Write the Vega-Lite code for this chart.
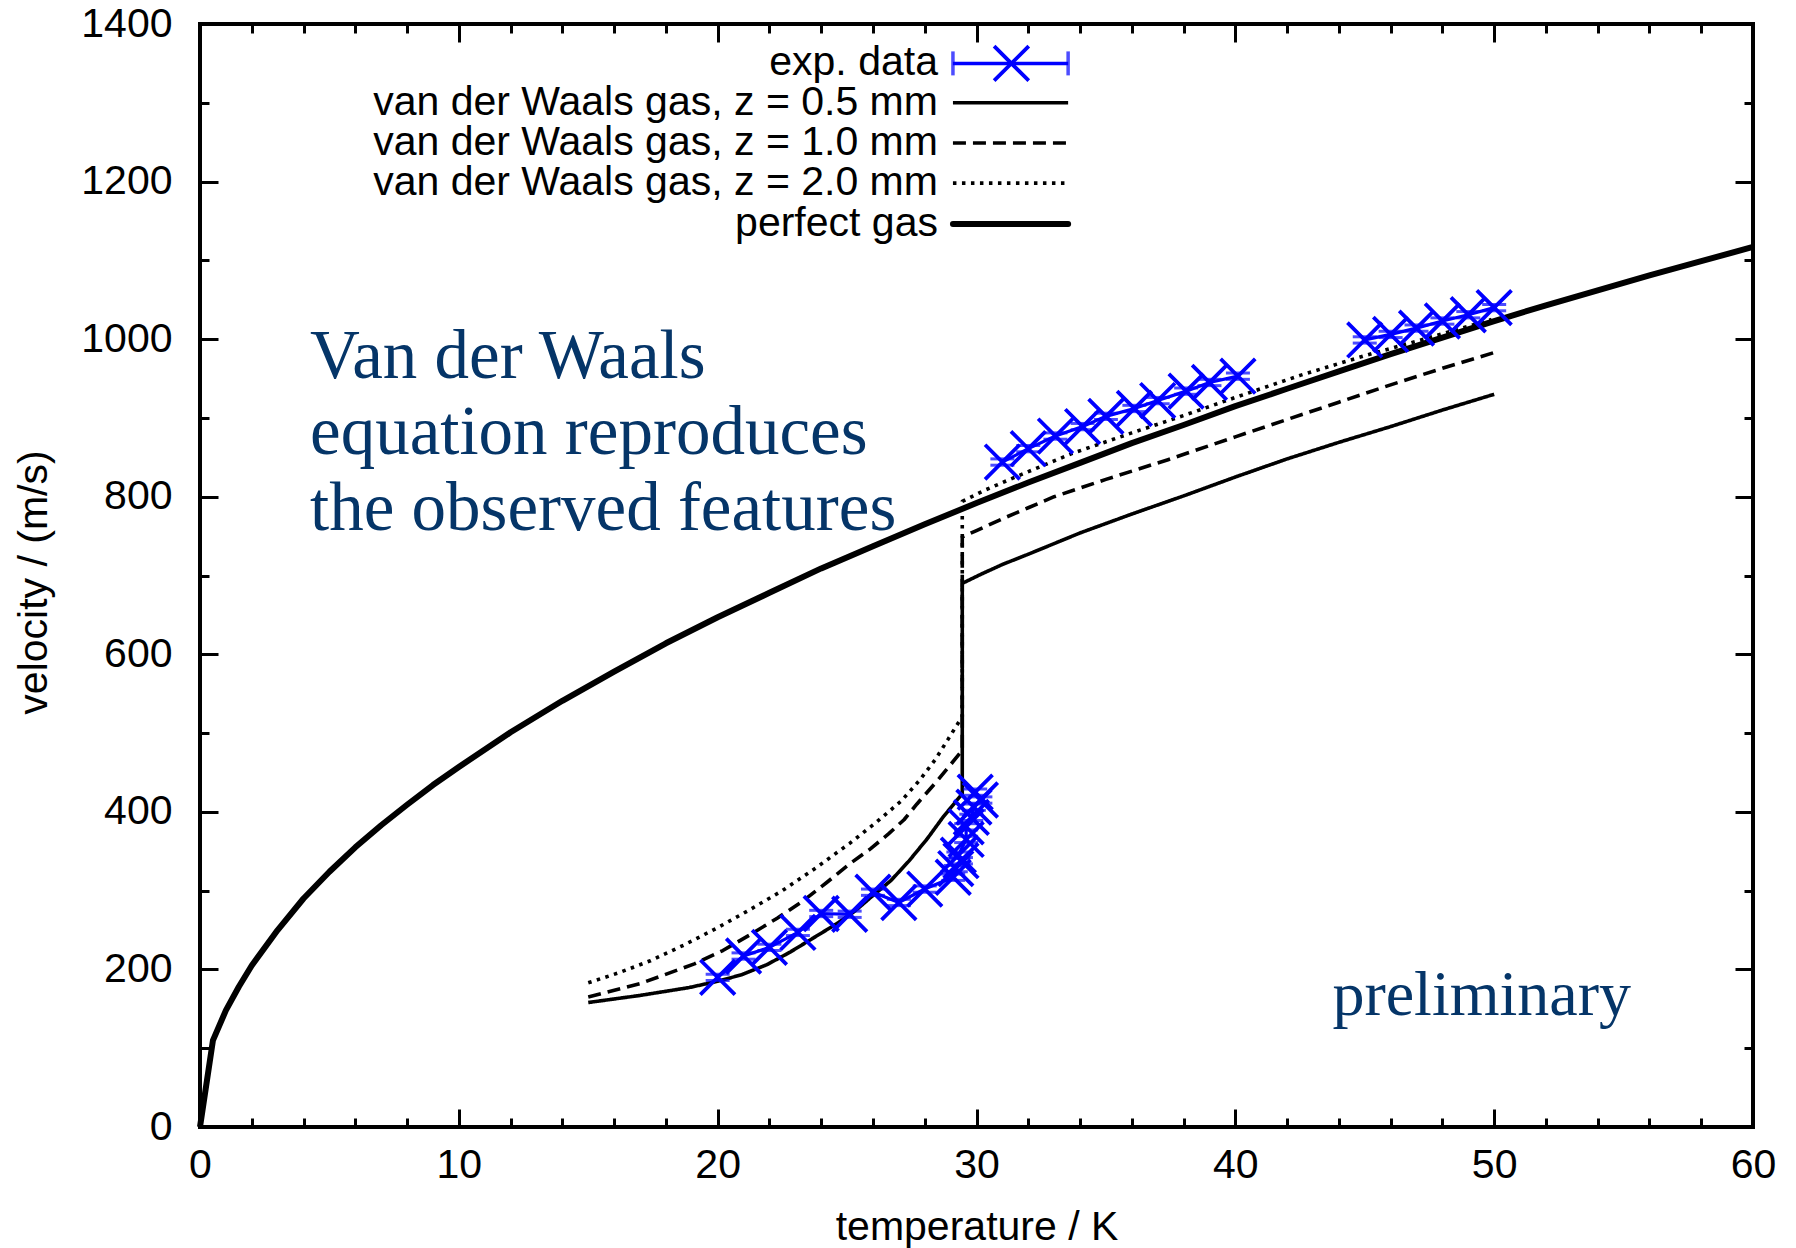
{
  "$schema": "https://vega.github.io/schema/vega-lite/v6.json",
  "width": 1553,
  "height": 1103,
  "autosize": {"type": "none"},
  "padding": {"left": 200, "top": 24, "right": 43, "bottom": 121},
  "background": "white",
  "config": {
    "view": {"stroke": "black", "strokeWidth": 4},
    "axis": {
      "domain": false,
      "grid": false,
      "tickColor": "black",
      "tickWidth": 3,
      "labelFont": "Liberation Sans",
      "labelFontSize": 41,
      "labelColor": "black",
      "titleFont": "Liberation Sans",
      "titleFontSize": 41,
      "titleFontWeight": "normal",
      "titleColor": "black",
      "labelOverlap": false,
      "labelFlush": false
    }
  },
  "datasets": {
    "curves": [
      {"s": "pg", "T": 0, "v": 0}, {"s": "pg", "T": 0.5, "v": 110}, {"s": "pg", "T": 1, "v": 148}, {"s": "pg", "T": 1.5, "v": 178},
      {"s": "pg", "T": 2, "v": 205}, {"s": "pg", "T": 3, "v": 250}, {"s": "pg", "T": 4, "v": 290}, {"s": "pg", "T": 5, "v": 324},
      {"s": "pg", "T": 6, "v": 355}, {"s": "pg", "T": 7, "v": 383}, {"s": "pg", "T": 8, "v": 409}, {"s": "pg", "T": 9, "v": 434},
      {"s": "pg", "T": 10, "v": 457}, {"s": "pg", "T": 12, "v": 501}, {"s": "pg", "T": 14, "v": 541}, {"s": "pg", "T": 16, "v": 578},
      {"s": "pg", "T": 18, "v": 614}, {"s": "pg", "T": 20, "v": 647}, {"s": "pg", "T": 22, "v": 678}, {"s": "pg", "T": 24, "v": 709},
      {"s": "pg", "T": 26, "v": 737}, {"s": "pg", "T": 28, "v": 765}, {"s": "pg", "T": 30, "v": 792}, {"s": "pg", "T": 32, "v": 818},
      {"s": "pg", "T": 34, "v": 843}, {"s": "pg", "T": 36, "v": 868}, {"s": "pg", "T": 38, "v": 891}, {"s": "pg", "T": 40, "v": 915},
      {"s": "pg", "T": 42, "v": 937}, {"s": "pg", "T": 44, "v": 959}, {"s": "pg", "T": 46, "v": 981}, {"s": "pg", "T": 48, "v": 1002},
      {"s": "pg", "T": 50, "v": 1023}, {"s": "pg", "T": 52, "v": 1043}, {"s": "pg", "T": 54, "v": 1062}, {"s": "pg", "T": 56, "v": 1081},
      {"s": "pg", "T": 58, "v": 1099}, {"s": "pg", "T": 60, "v": 1117},

      {"s": "z05", "T": 15, "v": 158}, {"s": "z05", "T": 17, "v": 167}, {"s": "z05", "T": 18.9, "v": 177}, {"s": "z05", "T": 20, "v": 185},
      {"s": "z05", "T": 20.9, "v": 193}, {"s": "z05", "T": 21.9, "v": 206}, {"s": "z05", "T": 22.8, "v": 222}, {"s": "z05", "T": 23.7, "v": 240},
      {"s": "z05", "T": 24.6, "v": 258}, {"s": "z05", "T": 25.3, "v": 274}, {"s": "z05", "T": 25.9, "v": 291}, {"s": "z05", "T": 26.7, "v": 313},
      {"s": "z05", "T": 27.4, "v": 338}, {"s": "z05", "T": 28.1, "v": 366}, {"s": "z05", "T": 28.7, "v": 393}, {"s": "z05", "T": 29.45, "v": 423},
      {"s": "z05", "T": 29.45, "v": 690}, {"s": "z05", "T": 30.2, "v": 702}, {"s": "z05", "T": 31, "v": 714}, {"s": "z05", "T": 32, "v": 727},
      {"s": "z05", "T": 34, "v": 754}, {"s": "z05", "T": 36, "v": 778}, {"s": "z05", "T": 38, "v": 801}, {"s": "z05", "T": 40, "v": 825},
      {"s": "z05", "T": 42, "v": 848}, {"s": "z05", "T": 44, "v": 869}, {"s": "z05", "T": 46, "v": 889}, {"s": "z05", "T": 48, "v": 910},
      {"s": "z05", "T": 50, "v": 930},

      {"s": "z10", "T": 15, "v": 165}, {"s": "z10", "T": 17, "v": 182}, {"s": "z10", "T": 19.1, "v": 207}, {"s": "z10", "T": 20.2, "v": 224},
      {"s": "z10", "T": 21.3, "v": 245}, {"s": "z10", "T": 22.3, "v": 265}, {"s": "z10", "T": 23.3, "v": 287}, {"s": "z10", "T": 24.2, "v": 310},
      {"s": "z10", "T": 25.1, "v": 334}, {"s": "z10", "T": 25.9, "v": 353}, {"s": "z10", "T": 26.6, "v": 372}, {"s": "z10", "T": 27.2, "v": 390},
      {"s": "z10", "T": 27.7, "v": 410}, {"s": "z10", "T": 28.5, "v": 440}, {"s": "z10", "T": 29.45, "v": 478}, {"s": "z10", "T": 29.45, "v": 749},
      {"s": "z10", "T": 30, "v": 757}, {"s": "z10", "T": 31, "v": 772}, {"s": "z10", "T": 32, "v": 786}, {"s": "z10", "T": 33, "v": 800},
      {"s": "z10", "T": 35, "v": 822}, {"s": "z10", "T": 37.4, "v": 847}, {"s": "z10", "T": 40, "v": 876}, {"s": "z10", "T": 42, "v": 898},
      {"s": "z10", "T": 44, "v": 920}, {"s": "z10", "T": 46, "v": 942}, {"s": "z10", "T": 48, "v": 963}, {"s": "z10", "T": 50, "v": 983},

      {"s": "z20", "T": 15, "v": 183}, {"s": "z20", "T": 16.2, "v": 196}, {"s": "z20", "T": 17.4, "v": 211}, {"s": "z20", "T": 18.7, "v": 231},
      {"s": "z20", "T": 20, "v": 253}, {"s": "z20", "T": 21.2, "v": 275}, {"s": "z20", "T": 22.5, "v": 300}, {"s": "z20", "T": 23.8, "v": 329},
      {"s": "z20", "T": 25.1, "v": 360}, {"s": "z20", "T": 26.1, "v": 386}, {"s": "z20", "T": 27.1, "v": 414}, {"s": "z20", "T": 27.8, "v": 440},
      {"s": "z20", "T": 28.4, "v": 466}, {"s": "z20", "T": 28.9, "v": 492}, {"s": "z20", "T": 29.45, "v": 521},
      {"s": "z20", "T": 29.45, "v": 794}, {"s": "z20", "T": 30.3, "v": 808}, {"s": "z20", "T": 31.5, "v": 825}, {"s": "z20", "T": 33.7, "v": 855},
      {"s": "z20", "T": 36, "v": 881}, {"s": "z20", "T": 38, "v": 903}, {"s": "z20", "T": 40, "v": 926}, {"s": "z20", "T": 42.5, "v": 954},
      {"s": "z20", "T": 45, "v": 979}, {"s": "z20", "T": 47.5, "v": 1002}, {"s": "z20", "T": 49.9, "v": 1025}
    ],
    "exp": [
      {"g": "a", "T": 20.0, "v": 190, "dv": 4}, {"g": "a", "T": 21.0, "v": 217, "dv": 4}, {"g": "a", "T": 22.0, "v": 228, "dv": 4},
      {"g": "a", "T": 23.1, "v": 247, "dv": 4}, {"g": "a", "T": 24.0, "v": 271, "dv": 4}, {"g": "a", "T": 25.1, "v": 270, "dv": 4},
      {"g": "a", "T": 26.0, "v": 298, "dv": 4}, {"g": "a", "T": 27.0, "v": 285, "dv": 4}, {"g": "a", "T": 28.0, "v": 302, "dv": 4},
      {"g": "a", "T": 29.1, "v": 317, "dv": 4}, {"g": "a", "T": 29.2, "v": 328, "dv": 4}, {"g": "a", "T": 29.4, "v": 338, "dv": 4},
      {"g": "a", "T": 29.3, "v": 345, "dv": 4}, {"g": "a", "T": 29.6, "v": 365, "dv": 4}, {"g": "a", "T": 29.6, "v": 381, "dv": 4},
      {"g": "a", "T": 29.8, "v": 393, "dv": 4}, {"g": "a", "T": 29.9, "v": 406, "dv": 4}, {"g": "a", "T": 30.15, "v": 415, "dv": 4},
      {"g": "a", "T": 29.95, "v": 425, "dv": 4},
      {"g": "b", "T": 31.0, "v": 844, "dv": 4}, {"g": "b", "T": 32.0, "v": 861, "dv": 4}, {"g": "b", "T": 33.05, "v": 877, "dv": 4},
      {"g": "b", "T": 34.1, "v": 889, "dv": 4}, {"g": "b", "T": 35.0, "v": 902, "dv": 4}, {"g": "b", "T": 36.1, "v": 912, "dv": 4},
      {"g": "b", "T": 37.0, "v": 922, "dv": 4}, {"g": "b", "T": 38.1, "v": 934, "dv": 4}, {"g": "b", "T": 39.0, "v": 945, "dv": 4},
      {"g": "b", "T": 40.1, "v": 953, "dv": 4},
      {"g": "c", "T": 45.0, "v": 999, "dv": 4}, {"g": "c", "T": 46.0, "v": 1006, "dv": 4}, {"g": "c", "T": 47.0, "v": 1014, "dv": 4},
      {"g": "c", "T": 48.0, "v": 1023, "dv": 4}, {"g": "c", "T": 49.0, "v": 1031, "dv": 4}, {"g": "c", "T": 50.0, "v": 1040, "dv": 4}
    ],
    "legend": [
      {"s": "exp", "label": "exp. data", "lv": 1350},
      {"s": "z05", "label": "van der Waals gas, z = 0.5 mm", "lv": 1300},
      {"s": "z10", "label": "van der Waals gas, z = 1.0 mm", "lv": 1249},
      {"s": "z20", "label": "van der Waals gas, z = 2.0 mm", "lv": 1198},
      {"s": "pg", "label": "perfect gas", "lv": 1146}
    ],
    "notes": [
      {"note": "main"}
    ]
  },
  "layer": [
    {
      "data": {"name": "curves"},
      "transform": [{"filter": "datum.s === 'pg'"}],
      "mark": {"type": "line", "color": "black", "strokeWidth": 6, "strokeCap": "butt", "strokeJoin": "round"},
      "encoding": {
        "x": {
          "field": "T", "type": "quantitative",
          "scale": {"domain": [0, 60], "nice": false, "zero": false},
          "axis": {
            "orient": "bottom",
            "title": "temperature / K",
            "values": [0, 2, 4, 6, 8, 10, 12, 14, 16, 18, 20, 22, 24, 26, 28, 30, 32, 34, 36, 38, 40, 42, 44, 46, 48, 50, 52, 54, 56, 58, 60],
            "labelExpr": "datum.value % 10 === 0 ? datum.label : ''",
            "tickSize": {"condition": {"test": "datum.value % 10 === 0", "value": -18}, "value": -9},
            "labelPadding": 36,
            "titleY": 112,
            "titleBaseline": "alphabetic"
          }
        },
        "y": {
          "field": "v", "type": "quantitative",
          "scale": {"domain": [0, 1400], "nice": false, "zero": false},
          "axis": {
            "orient": "left",
            "title": "velocity / (m/s)",
            "format": "d",
            "values": [0, 100, 200, 300, 400, 500, 600, 700, 800, 900, 1000, 1100, 1200, 1300, 1400],
            "labelExpr": "datum.value % 200 === 0 ? datum.label : ''",
            "tickSize": {"condition": {"test": "datum.value % 200 === 0", "value": -18}, "value": -9},
            "labelPadding": 46,
            "titleX": -166,
            "titleY": 558,
            "titleBaseline": "middle"
          }
        },
        "order": {"value": null}
      }
    },
    {
      "data": {"name": "curves"},
      "transform": [{"filter": "datum.s !== 'pg'"}],
      "mark": {"type": "line", "color": "black", "strokeWidth": 3.6, "strokeCap": "butt", "strokeJoin": "round"},
      "encoding": {
        "x": {"field": "T", "type": "quantitative", "axis": null},
        "y": {"field": "v", "type": "quantitative", "axis": null},
        "detail": {"field": "s"},
        "strokeDash": {"field": "s", "type": "nominal", "legend": null,
          "scale": {"domain": ["z05", "z10", "z20"], "range": [[1, 0], [13, 7], [3.5, 5.5]]}},
        "order": {"value": null}
      }
    },
    {
      "data": {"name": "exp"},
      "mark": {"type": "line", "color": "#0000ff", "strokeWidth": 3.2},
      "encoding": {
        "x": {"field": "T", "type": "quantitative",
          "axis": {
            "orient": "top", "title": null, "labels": false,
            "values": [0, 2, 4, 6, 8, 10, 12, 14, 16, 18, 20, 22, 24, 26, 28, 30, 32, 34, 36, 38, 40, 42, 44, 46, 48, 50, 52, 54, 56, 58, 60],
            "tickSize": {"condition": {"test": "datum.value % 10 === 0", "value": -18}, "value": -9}
          }},
        "y": {"field": "v", "type": "quantitative",
          "axis": {
            "orient": "right", "title": null, "labels": false,
            "values": [0, 100, 200, 300, 400, 500, 600, 700, 800, 900, 1000, 1100, 1200, 1300, 1400],
            "tickSize": {"condition": {"test": "datum.value % 200 === 0", "value": -18}, "value": -9}
          }},
        "detail": {"field": "g"},
        "order": {"value": null}
      }
    },
    {
      "data": {"name": "exp"},
      "mark": {"type": "errorbar", "color": "#0000ff", "rule": {"strokeWidth": 3}, "ticks": {"size": 24, "thickness": 3, "color": "#0000ff"}},
      "encoding": {
        "x": {"field": "T", "type": "quantitative", "axis": null},
        "y": {"field": "v", "type": "quantitative", "axis": null},
        "yError": {"field": "dv"}
      }
    },
    {
      "data": {"name": "exp"},
      "mark": {"type": "point", "shape": "M-1,-1L1,1M-1,1L1,-1", "filled": false, "color": "#0000ff", "strokeWidth": 3.8, "size": 1200, "opacity": 1},
      "encoding": {
        "x": {"field": "T", "type": "quantitative", "axis": null},
        "y": {"field": "v", "type": "quantitative", "axis": null}
      }
    },
    {
      "data": {"name": "legend"},
      "mark": {"type": "text", "align": "right", "baseline": "middle", "font": "Liberation Sans", "fontSize": 41, "color": "black"},
      "encoding": {
        "x": {"datum": 28.51, "type": "quantitative", "axis": null},
        "y": {"field": "lv", "type": "quantitative", "axis": null},
        "text": {"field": "label"}
      }
    },
    {
      "data": {"name": "legend"},
      "transform": [{"filter": "datum.s === 'z05' || datum.s === 'z10' || datum.s === 'z20'"}],
      "mark": {"type": "rule", "color": "black", "strokeWidth": 3.6, "strokeCap": "butt"},
      "encoding": {
        "x": {"datum": 29.09, "type": "quantitative", "axis": null},
        "x2": {"datum": 33.54},
        "y": {"field": "lv", "type": "quantitative", "axis": null},
        "strokeDash": {"field": "s", "type": "nominal", "legend": null}
      }
    },
    {
      "data": {"name": "legend"},
      "transform": [{"filter": "datum.s === 'pg'"}],
      "mark": {"type": "rule", "color": "black", "strokeWidth": 6, "strokeCap": "round"},
      "encoding": {
        "x": {"datum": 29.09, "type": "quantitative", "axis": null},
        "x2": {"datum": 33.54},
        "y": {"field": "lv", "type": "quantitative", "axis": null}
      }
    },
    {
      "data": {"name": "legend"},
      "transform": [{"filter": "datum.s === 'exp'"}],
      "mark": {"type": "rule", "color": "#0000ff", "strokeWidth": 3.5},
      "encoding": {
        "x": {"datum": 29.09, "type": "quantitative", "axis": null},
        "x2": {"datum": 33.54},
        "y": {"field": "lv", "type": "quantitative", "axis": null}
      }
    },
    {
      "data": {"name": "legend"},
      "transform": [{"filter": "datum.s === 'exp'"}],
      "mark": {"type": "tick", "orient": "vertical", "color": "#0000ff", "size": 24, "thickness": 3.5},
      "encoding": {
        "x": {"datum": 29.09, "type": "quantitative", "axis": null},
        "y": {"field": "lv", "type": "quantitative", "axis": null}
      }
    },
    {
      "data": {"name": "legend"},
      "transform": [{"filter": "datum.s === 'exp'"}],
      "mark": {"type": "tick", "orient": "vertical", "color": "#0000ff", "size": 24, "thickness": 3.5},
      "encoding": {
        "x": {"datum": 33.54, "type": "quantitative", "axis": null},
        "y": {"field": "lv", "type": "quantitative", "axis": null}
      }
    },
    {
      "data": {"name": "legend"},
      "transform": [{"filter": "datum.s === 'exp'"}],
      "mark": {"type": "point", "shape": "M-1,-1L1,1M-1,1L1,-1", "filled": false, "color": "#0000ff", "strokeWidth": 3.8, "size": 1200, "opacity": 1},
      "encoding": {
        "x": {"datum": 31.35, "type": "quantitative", "axis": null},
        "y": {"field": "lv", "type": "quantitative", "axis": null}
      }
    },
    {
      "data": {"name": "notes"},
      "mark": {"type": "text", "align": "left", "baseline": "alphabetic", "font": "Liberation Serif", "fontSize": 69, "lineHeight": 76, "color": "#053568",
        "text": ["Van der Waals", "equation reproduces", "the observed features"]},
      "encoding": {
        "x": {"datum": 4.25, "type": "quantitative", "axis": null},
        "y": {"datum": 951, "type": "quantitative", "axis": null}
      }
    },
    {
      "data": {"name": "notes"},
      "mark": {"type": "text", "align": "left", "baseline": "alphabetic", "font": "Liberation Serif", "fontSize": 64, "color": "#053568", "text": "preliminary"},
      "encoding": {
        "x": {"datum": 43.75, "type": "quantitative", "axis": null},
        "y": {"datum": 142, "type": "quantitative", "axis": null}
      }
    }
  ],
  "resolve": {"axis": {"x": "independent", "y": "independent"}}
}
